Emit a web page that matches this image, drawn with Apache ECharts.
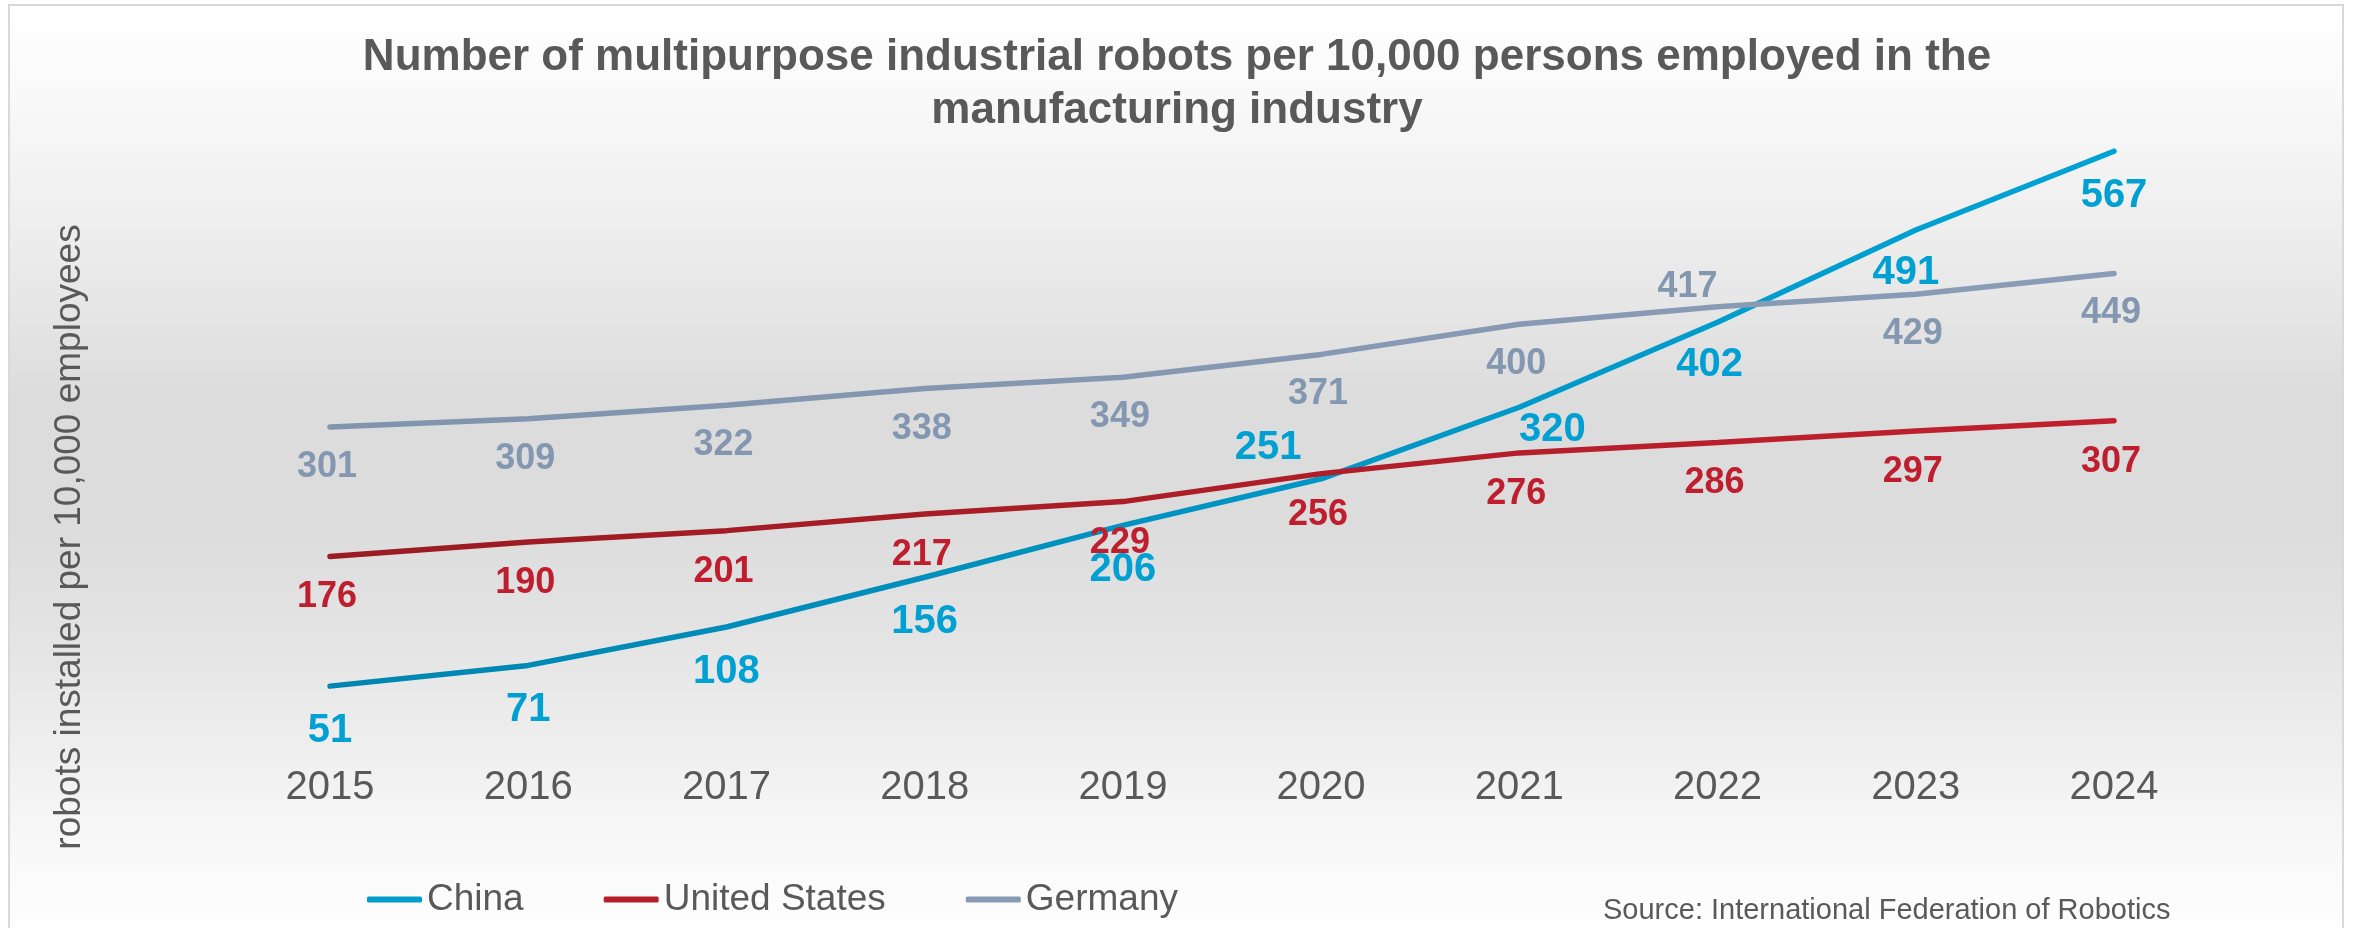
<!DOCTYPE html>
<html>
<head>
<meta charset="utf-8">
<script src="https://cdn.jsdelivr.net/npm/echarts@6/dist/echarts.min.js"></script>
<style>
html,body{margin:0;padding:0;background:#fff}
#main{width:2354px;height:928px}
</style>
</head>
<body>
<div id="main"></div>
<script>
var myChart = echarts.init(document.getElementById('main'));

var years = ['2015','2016','2017','2018','2019','2020','2021','2022','2023','2024'];
var china = [51, 71, 108, 156, 206, 251, 320, 402, 491, 567];
var usa = [176, 190, 201, 217, 229, 256, 276, 286, 297, 307];
var germany = [301, 309, 322, 338, 349, 371, 400, 417, 429, 449];

var FONT = '"Liberation Sans", Arial, Helvetica, sans-serif';
var GREY = '#595959';

// where each value label sits relative to its point (default + a few moved ones)
var shifts = {
	China: {def: [0, 45], 5: [-53, -31], 6: [33, 23], 7: [-8, 43], 8: [-10, 43]},
	'United States': {def: [-3, 41]},
	Germany: {def: [-3, 40], 7: [-30, -20]}
};

function makeData(name, values) {
	return values.map(function (v, i) {
		var off = shifts[name][i] || shifts[name].def;
		return {value: v, label: {offset: off}};
	});
}

function makeSeries(name, values, c1, c2, solid, labelColor, labelSize) {
	return {
		name: name,
		type: 'line',
		data: makeData(name, values),
		symbol: 'circle',
		symbolSize: 2,
		showSymbol: true,
		itemStyle: {color: solid},
		lineStyle: {
			width: 5.5,
			cap: 'round',
			color: new echarts.graphic.LinearGradient(0, 0, 1, 0, [
				{offset: 0, color: c1},
				{offset: 1, color: c2}
			])
		},
		label: {
			show: true,
			position: 'inside',
			color: labelColor,
			fontFamily: FONT,
			fontWeight: 'bold',
			fontSize: labelSize
		},
		emphasis: {disabled: true}
	};
}

var options = {
	backgroundColor: '#ffffff',
	animation: false,
	title: {
		text: 'Number of multipurpose industrial robots per 10,000 persons employed in the\nmanufacturing industry',
		left: 'center',
		top: 26,
		textStyle: {
			fontFamily: FONT,
			fontWeight: 'bold',
			fontSize: 44,
			lineHeight: 53,
			color: GREY
		}
	},
	graphic: [
		{
			type: 'rect',
			z: -10,
			shape: {x: 9, y: 5, width: 2334, height: 940},
			style: {
				fill: new echarts.graphic.LinearGradient(0, 0, 0, 1, [
					{offset: 0, color: '#ffffff'},
					{offset: 0.10, color: '#f9f9f9'},
					{offset: 0.26, color: '#ececec'},
					{offset: 0.42, color: '#dcdcdc'},
					{offset: 0.55, color: '#dcdcdc'},
					{offset: 0.675, color: '#e4e4e4'},
					{offset: 0.89, color: '#f8f8f8'},
					{offset: 1, color: '#ffffff'}
				]),
				stroke: '#d9d9d9',
				lineWidth: 2
			}
		},
		{
			type: 'text',
			z: 100,
			x: 70,
			y: 537,
			rotation: Math.PI / 2,
			style: {
				text: 'robots installed per 10,000 employees',
				fontFamily: FONT,
				fontSize: 37,
				fill: GREY,
				align: 'center',
				verticalAlign: 'middle'
			}
		},
		{
			type: 'text',
			z: 100,
			x: 1603,
			y: 911,
			style: {
				text: 'Source: International Federation of Robotics',
				fontFamily: FONT,
				fontSize: 29,
				fill: GREY,
				align: 'left',
				verticalAlign: 'middle'
			}
		}
	],
	legend: {
		left: 362,
		top: 876,
		icon: 'roundRect',
		itemWidth: 55,
		itemHeight: 6,
		itemGap: 80,
		textStyle: {fontFamily: FONT, fontSize: 37, color: GREY},
		data: ['China', 'United States', 'Germany']
	},
	grid: {left: 330, right: 240, top: 117, bottom: 189},
	xAxis: {
		type: 'category',
		boundaryGap: false,
		data: years,
		axisLine: {show: false},
		axisTick: {show: false},
		axisLabel: {fontFamily: FONT, fontSize: 40, color: GREY, margin: 29}
	},
	yAxis: {
		type: 'value',
		min: 0,
		max: 600,
		show: false
	},
	series: [
		makeSeries('China', china, '#0085b0', '#00a3d5', '#009dcd', '#00a0d2', 40),
		makeSeries('United States', usa, '#9a1b22', '#c1202e', '#b5202a', '#be1e2d', 36),
		makeSeries('Germany', germany, '#8194ad', '#8a9cb6', '#8799b3', '#8497b0', 36)
	]
};
myChart.setOption(options);
</script>
</body>
</html>
